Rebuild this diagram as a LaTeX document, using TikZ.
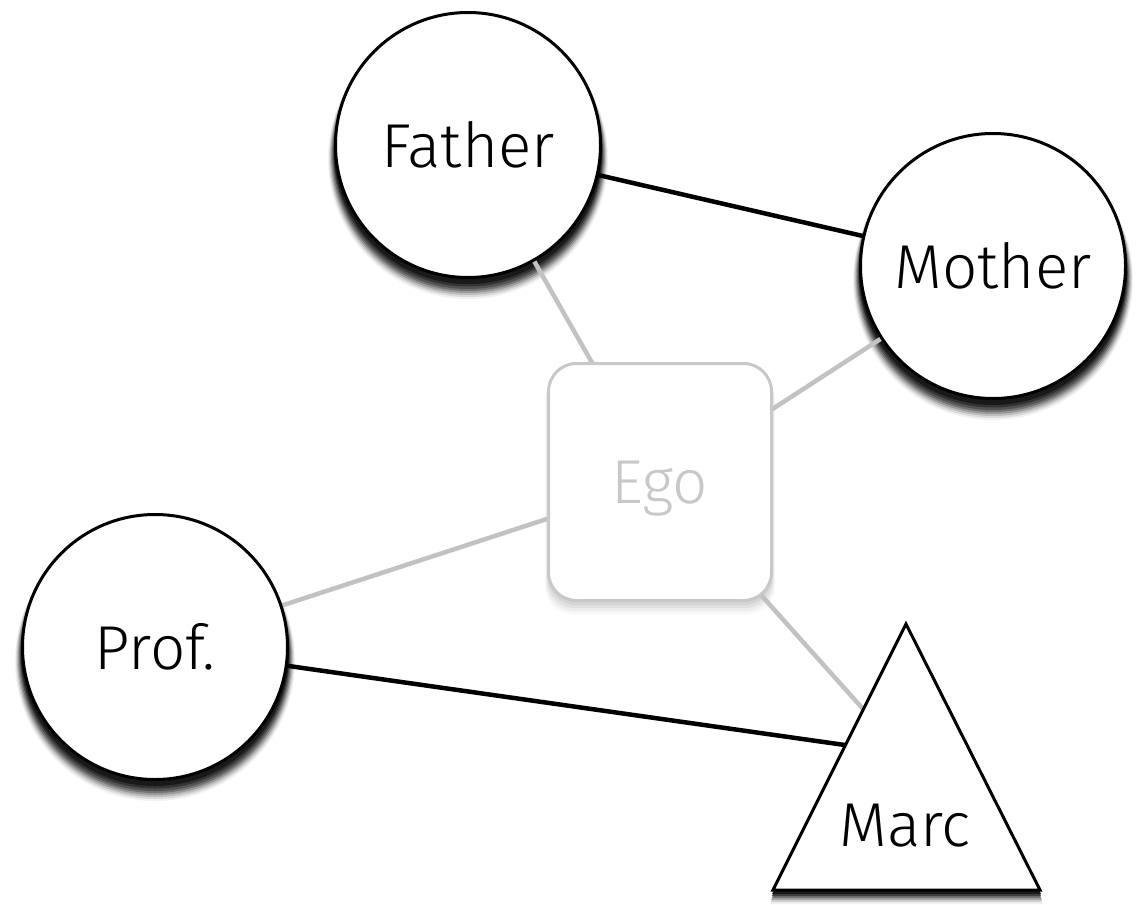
\documentclass[tikz,border=0pt]{standalone}
\usepackage{fontspec}
\setmainfont{Fira Sans Light}
\usetikzlibrary{backgrounds}
\definecolor{edgegray}{HTML}{C2C2C2}
\definecolor{egogray}{HTML}{C8C8C8}
\tikzset{
  person/.style={circle, draw=black, line width=3pt, fill=white, minimum size=265pt, inner sep=0pt,
    font=\fontsize{62}{70}\selectfont},
  egobox/.style={rectangle, rounded corners=28pt, draw=egogray, line width=3pt, fill=white,
    minimum width=223pt, minimum height=237pt, inner sep=0pt, text=egogray, text depth=0pt,
    font=\fontsize{62}{70}\selectfont},
  tri/.style={draw=black, line width=3pt, fill=white, line join=miter},
  strong/.style={draw=black, line width=4.5pt},
  weak/.style={draw=edgegray, line width=4.5pt},
  lbl/.style={font=\fontsize{62}{70}\selectfont, inner sep=0pt, text depth=0pt}
}
\begin{document}
\begin{tikzpicture}[x=1pt,y=-1pt]
\useasboundingbox (0,0) rectangle (1139,904);
\node[person] (father) at (468,145) {Father};
\node[person] (mother) at (993,266) {Mother};
\node[person] (prof) at (155,647) {Prof.};
\node[egobox] (ego) at (660,482) {Ego};
\coordinate (mA) at (906,624);
\coordinate (mB) at (1040,890);
\coordinate (mC) at (773,890);
\path[tri] (mA) -- (mB) -- (mC) -- cycle;
\node[lbl] (marc) at (905,825) {Marc};
\coordinate (marcP) at (880,750);
\coordinate (marcE) at (880,728);
\begin{scope}[on background layer]
  \foreach \cx/\cy in {468/145, 993/266, 155/647}{
    \fill[black!5]  (\cx,\cy+14) circle[radius=140pt];
    \fill[black!14] (\cx,\cy+13) circle[radius=139pt];
    \fill[black!26] (\cx,\cy+12) circle[radius=138pt];
    \fill[black!40] (\cx,\cy+11) circle[radius=137pt];
    \fill[black!55] (\cx,\cy+10) circle[radius=136pt];
    \fill[black!68] (\cx,\cy+9) circle[radius=135pt];
    \fill[black!80] (\cx,\cy+7) circle[radius=134.5pt];
    \fill[black!90] (\cx,\cy+5) circle[radius=134pt];
  }
  \fill[black!3, rounded corners=28pt] (545,372) rectangle (775,614);
  \fill[black!7, rounded corners=28pt] (546,370) rectangle (774,611);
  \fill[black!12, rounded corners=28pt] (547,368) rectangle (773,608);
  \fill[black!17, rounded corners=28pt] (548,366) rectangle (772,605);
  \fill[black!5]  (906,640) -- (1043,904) -- (770,904) -- cycle;
  \fill[black!18] (906,637) -- (1042,902) -- (771,902) -- cycle;
  \fill[black!35] (906,634) -- (1042,900) -- (771,900) -- cycle;
  \fill[black!55] (906,631) -- (1041,898) -- (772,898) -- cycle;
  \fill[black!75] (906,628) -- (1041,896) -- (772,896) -- cycle;
  \fill[black!90] (906,626) -- (1041,894) -- (772,894) -- cycle;
  \draw[strong] (father.center) -- (mother.center);
  \draw[strong] (prof.center) -- (marcP);
  \draw[weak] (father.center) -- (ego.center);
  \draw[weak] (mother.center) -- (ego.center);
  \draw[weak] (prof.center) -- (ego.center);
  \draw[weak] (ego.center) -- (marcE);
\end{scope}
\end{tikzpicture}
\end{document}
